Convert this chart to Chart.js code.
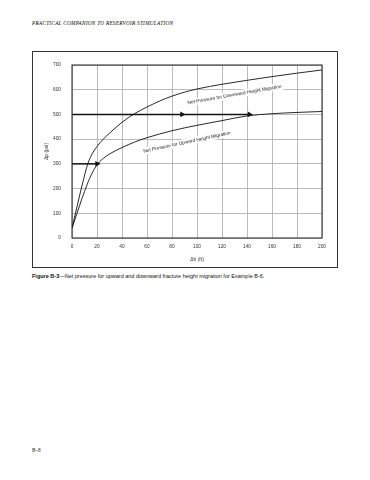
<!DOCTYPE html>
<html>
<head>
<meta charset="utf-8">
<script src="https://cdn.jsdelivr.net/npm/chart.js@4.4.1/dist/chart.umd.min.js"></script>
<style>
  body { margin: 0; background: #fff; width: 370px; height: 480px; position: relative; overflow: hidden; }
  .hdr { position: absolute; left: 32px; top: 20px; font: italic 5.2px "Liberation Serif", serif; letter-spacing: 0.3px; color: #000; white-space: nowrap; }
  .frame { position: absolute; left: 32px; top: 51px; width: 306px; height: 217px; box-sizing: border-box; border: 1px solid #333; }
  #chart { position: absolute; left: 32px; top: 51px; }
  .cap { position: absolute; left: 32px; top: 273px; font: 5.5px "Liberation Sans", sans-serif; color: #111; white-space: nowrap; }
  .cap b { font-weight: bold; }
  .foot { position: absolute; left: 32px; top: 447px; font: 5.2px "Liberation Serif", serif; color: #222; }
</style>
</head>
<body>
<div class="hdr">PRACTICAL COMPANION TO RESERVOIR STIMULATION</div>
<div class="frame"></div>
<canvas id="chart" width="306" height="217"></canvas>
<div class="cap"><b>Figure B-3</b>—Net pressure for upward and downward fracture height migration for Example B-6.</div>
<div class="foot">B–8</div>
<script>
const heightsDown = [0, 3, 6, 9, 12, 15, 20, 25, 30, 40, 50, 60, 70, 80, 90, 100, 120, 140, 160, 180, 200];
const downward = [40, 105, 170, 232, 290, 330, 370, 400, 424, 468, 503, 530, 554, 574, 590, 603, 622, 638, 653, 667, 680];
const heightsUp = [0, 4, 8, 12, 16, 20, 22, 25, 30, 40, 50, 60, 80, 100, 120, 140, 160, 180, 200];
const upward = [40, 100, 160, 215, 262, 296, 308, 322, 340, 366, 388, 406, 434, 456, 475, 494, 503, 508, 512];

// arrows
const arrow500 = [[0, 500], [88, 500], [142, 500]];
const arrow300 = [[0, 300], [20, 300]];

const curveLabels = [
  { text: "Net Pressure for Downward Height Migration", x: 130, y: 580, angle: -10 },
  { text: "Net Pressure for Upward Height Migration", x: 92, y: 388, angle: -12 }
];

const toPts = (xs, ys) => xs.map((x, i) => ({ x: x, y: ys[i] }));

const frame = {
  id: "frame",
  beforeDatasetsDraw(chart) {
    const { ctx, scales } = chart;
    ctx.save();
    ctx.font = "4.8px 'Liberation Sans', sans-serif";
    ctx.textAlign = "center";
    ctx.textBaseline = "middle";
    curveLabels.forEach(l => {
      ctx.save();
      ctx.translate(scales.x.getPixelForValue(l.x), scales.y.getPixelForValue(l.y));
      ctx.rotate(l.angle * Math.PI / 180);
      // knock the grid out behind the label
      const w = ctx.measureText(l.text).width;
      ctx.fillStyle = "#fff";
      ctx.fillRect(-w / 2 - 2, -3.5, w + 4, 7);
      ctx.fillStyle = "#222";
      ctx.fillText(l.text, 0, 0);
      ctx.restore();
    });
    ctx.restore();
  },
  afterDatasetsDraw(chart) {
    const { ctx, chartArea: a } = chart;
    ctx.save();
    ctx.strokeStyle = "#222";
    ctx.lineWidth = 1;
    ctx.strokeRect(a.left, a.top, a.right - a.left, a.bottom - a.top);
    ctx.restore();
  }
};

const arrowSet = (pts) => ({
  data: pts.map(p => ({ x: p[0], y: p[1] })),
  borderColor: "#111",
  backgroundColor: "#111",
  borderWidth: 1.5,
  pointStyle: "triangle",
  rotation: 90,
  pointRadius: pts.map((p, i) => i === 0 ? 0 : 1.9),
  tension: 0
});

new Chart(document.getElementById("chart"), {
  type: "line",
  data: {
    datasets: [
      { data: toPts(heightsDown, downward), borderColor: "#111", borderWidth: 0.9, pointRadius: 0, cubicInterpolationMode: "monotone" },
      { data: toPts(heightsUp, upward), borderColor: "#111", borderWidth: 0.9, pointRadius: 0, cubicInterpolationMode: "monotone" },
      arrowSet(arrow500),
      arrowSet(arrow300)
    ]
  },
  options: {
    responsive: false,
    animation: false,
    layout: { padding: { top: 14, right: 16, left: 0, bottom: 0 } },
    plugins: { legend: { display: false }, tooltip: { enabled: false } },
    scales: {
      x: {
        type: "linear", min: 0, max: 200,
        afterFit: s => { s.height = 30; },
        ticks: { stepSize: 20, padding: 6, color: "#333", font: { size: 4.8, family: "Liberation Sans" } },
        grid: { color: "#aaa", lineWidth: 0.8, drawTicks: false },
        border: { display: false },
        title: { display: true, text: "Δh (ft)", color: "#333", font: { size: 5, family: "Liberation Sans" }, padding: { top: 0, bottom: 5 } }
      },
      y: {
        min: 0, max: 700,
        afterFit: s => { s.width = 40; },
        ticks: { stepSize: 100, padding: 11, color: "#333", font: { size: 4.8, family: "Liberation Sans" } },
        grid: { color: "#aaa", lineWidth: 0.8, drawTicks: false },
        border: { display: false },
        title: { display: true, text: "Δp (psi)", color: "#333", font: { size: 5, family: "Liberation Sans" }, padding: { top: 12, bottom: 0 } }
      }
    }
  },
  plugins: [frame]
});
</script>
</body>
</html>
